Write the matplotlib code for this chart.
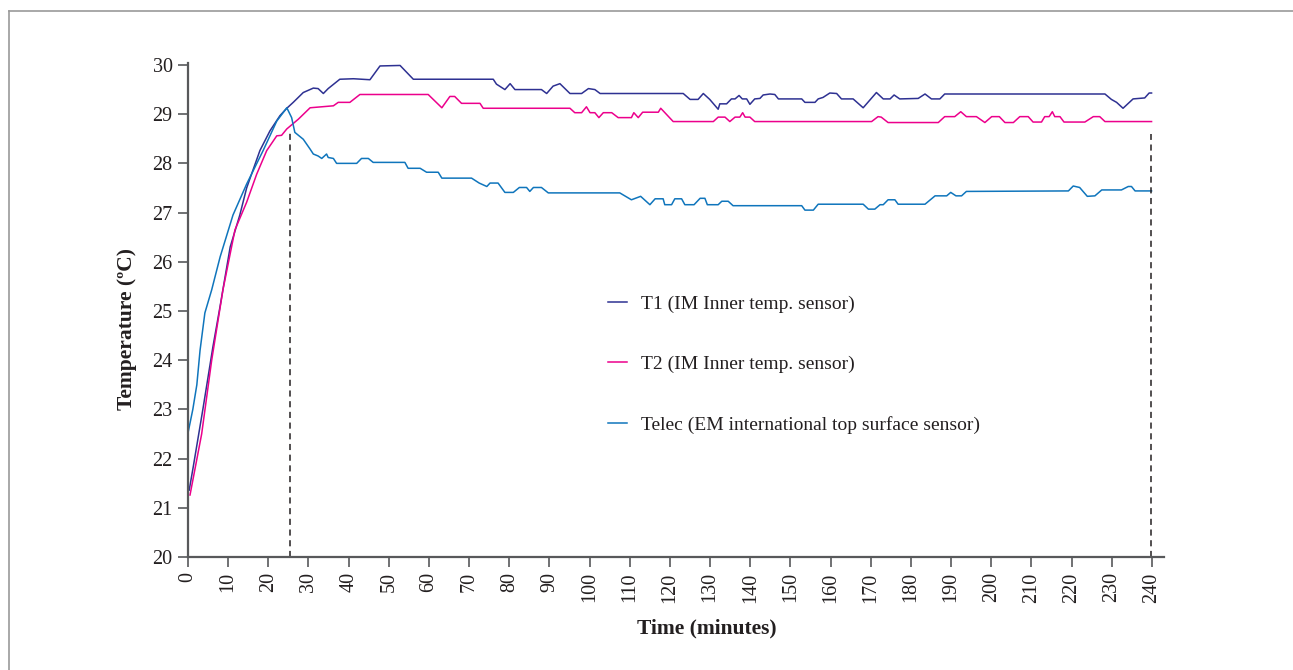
import matplotlib
matplotlib.use("Agg")
import matplotlib.pyplot as plt
from matplotlib.lines import Line2D

# Datos (tiempo en minutos, temperatura en grados C)
t1_time = [0.3, 1.3, 3.7, 6.2, 8.0, 10.5, 12.9, 14.6, 17.9, 20.4, 22.9, 24.6, 26.2, 28.7,
           31.2, 32.4, 33.7, 34.9, 37.8, 41.2, 45.3, 47.8, 52.8, 56.1, 76.0, 76.8, 78.9,
           80.2, 81.4, 88.0, 89.3, 90.9, 92.6, 95.1, 98.0, 99.7, 101.3, 102.6, 123.3,
           125.0, 127.0, 128.3, 129.9, 132.0, 132.4, 134.1, 135.3, 136.2, 137.2, 138.0,
           139.1, 139.9, 141.1, 142.4, 143.2, 144.9, 146.1, 147.0, 152.8, 153.6, 156.1,
           156.9, 158.1, 159.8, 161.5, 162.7, 165.6, 168.1, 171.4, 173.1, 174.8, 175.8,
           177.2, 181.8, 183.5, 185.1, 187.2, 188.4, 228.3, 229.9, 231.2, 232.8, 235.3,
           238.2, 239.3, 239.9]
t1_temp = [21.36, 21.83, 23.0, 24.27, 25.1, 26.3, 26.95, 27.5, 28.26, 28.66, 28.97, 29.12,
           29.24, 29.44, 29.53, 29.52, 29.42, 29.52, 29.71, 29.72, 29.7, 29.98, 29.99,
           29.71, 29.71, 29.61, 29.5, 29.62, 29.5, 29.5, 29.42, 29.57, 29.62, 29.42,
           29.42, 29.52, 29.5, 29.42, 29.42, 29.3, 29.3, 29.42, 29.3, 29.1, 29.21, 29.21,
           29.31, 29.31, 29.38, 29.31, 29.31, 29.2, 29.31, 29.32, 29.39, 29.41, 29.4,
           29.31, 29.31, 29.24, 29.24, 29.31, 29.34, 29.43, 29.42, 29.31, 29.31, 29.13,
           29.44, 29.31, 29.31, 29.39, 29.31, 29.32, 29.41, 29.31, 29.31, 29.41, 29.41,
           29.3, 29.24, 29.12, 29.31, 29.33, 29.43, 29.43]

t2_time = [0.5, 3.4, 5.9, 8.7, 11.7, 14.6, 17.1, 19.6, 22.1, 23.3, 24.6, 27.5, 30.4, 36.2,
           37.4, 40.3, 42.8, 59.8, 63.2, 65.2, 66.4, 68.1, 72.7, 73.5, 95.1, 96.3, 98.0,
           99.2, 100.1, 101.3, 102.3, 103.4, 105.5, 107.1, 110.4, 111.0, 112.1, 113.2,
           117.1, 117.7, 120.8, 130.8, 132.0, 133.7, 134.9, 136.2, 137.4, 138.1, 138.7,
           139.9, 141.1, 170.2, 171.8, 172.6, 174.3, 186.8, 188.4, 190.9, 192.4, 193.8,
           196.3, 198.4, 200.1, 202.0, 203.4, 205.5, 207.1, 209.2, 210.4, 212.5, 213.3,
           214.4, 215.2, 215.8, 217.1, 218.1, 223.3, 225.4, 227.0, 228.3, 239.9]
t2_temp = [21.26, 22.5, 24.0, 25.43, 26.65, 27.21, 27.78, 28.26, 28.56, 28.57, 28.7, 28.9,
           29.13, 29.17, 29.24, 29.24, 29.4, 29.4, 29.13, 29.36, 29.36, 29.22, 29.22,
           29.12, 29.12, 29.03, 29.03, 29.15, 29.03, 29.03, 28.93, 29.03, 29.03, 28.93,
           28.93, 29.03, 28.93, 29.04, 29.04, 29.12, 28.85, 28.85, 28.94, 28.94, 28.85,
           28.94, 28.94, 29.03, 28.94, 28.94, 28.85, 28.85, 28.95, 28.94, 28.83, 28.83,
           28.95, 28.95, 29.05, 28.95, 28.95, 28.83, 28.95, 28.95, 28.83, 28.83, 28.95,
           28.95, 28.84, 28.84, 28.95, 28.95, 29.05, 28.95, 28.95, 28.84, 28.84, 28.95,
           28.95, 28.85, 28.85]

telec_time = [0.0, 1.2, 2.2, 3.0, 4.2, 5.9, 8.0, 11.2, 14.6, 18.7, 22.1, 24.6, 25.8, 26.6,
              28.7, 30.4, 31.2, 32.4, 33.3, 34.5, 34.9, 36.2, 37.0, 42.0, 43.2, 44.9, 46.1,
              54.0, 54.8, 57.8, 59.4, 62.3, 63.2, 70.6, 72.5, 74.4, 75.2, 77.2, 78.9, 81.0,
              82.5, 84.3, 85.1, 86.0, 88.0, 89.7, 107.5, 110.4, 112.7, 115.0, 116.3, 118.3,
              118.7, 120.4, 121.2, 122.9, 123.7, 126.0, 127.5, 128.7, 129.3, 132.0, 132.9,
              134.5, 135.7, 152.8, 153.6, 155.7, 156.9, 168.1, 169.4, 171.0, 172.3, 173.1,
              174.3, 176.0, 176.8, 183.5, 186.0, 188.9, 189.9, 191.2, 192.6, 193.8, 219.2,
              220.4, 222.0, 223.9, 225.8, 227.5, 232.4, 234.1, 234.9, 235.8, 239.9]
telec_temp = [22.52, 23.0, 23.5, 24.2, 24.96, 25.43, 26.1, 26.95, 27.58, 28.26, 28.86, 29.13,
              28.93, 28.63, 28.49, 28.29, 28.19, 28.15, 28.1, 28.19, 28.12, 28.1, 28.0,
              28.0, 28.1, 28.1, 28.02, 28.02, 27.9, 27.9, 27.82, 27.82, 27.7, 27.7, 27.6,
              27.53, 27.6, 27.6, 27.41, 27.41, 27.51, 27.51, 27.43, 27.51, 27.51, 27.4,
              27.4, 27.26, 27.33, 27.16, 27.28, 27.28, 27.16, 27.16, 27.28, 27.28, 27.16,
              27.16, 27.29, 27.29, 27.16, 27.16, 27.23, 27.23, 27.14, 27.14, 27.05, 27.05,
              27.17, 27.17, 27.07, 27.07, 27.16, 27.16, 27.26, 27.26, 27.17, 27.17, 27.34,
              27.34, 27.41, 27.34, 27.34, 27.43, 27.44, 27.54, 27.51, 27.33, 27.34, 27.46,
              27.46, 27.53, 27.53, 27.44, 27.44]

# Lineas verticales discontinuas
marcas_t = [25.5, 239.8]
marcas_top = [28.63, 28.6]

etiquetas = ["T1 (IM Inner temp. sensor)", "T2 (IM Inner temp. sensor)",
             "Telec (EM international top surface sensor)"]
colores = ["#2e3192", "#ec008c", "#0f75bc"]

texto = "#231f20"
eje = "#58595b"
plt.rcParams['font.family'] = ['Liberation Serif', 'DejaVu Serif']

fig = plt.figure(figsize=(12.93, 6.70), dpi=100)
ax = fig.add_axes([188/1293, 1 - 557/670, 976/1293, 494/670])

ax.plot(t1_time, t1_temp, color=colores[0], lw=1.1, label=etiquetas[0])
ax.plot(t2_time, t2_temp, color=colores[1], lw=1.1, label=etiquetas[1])
ax.plot(telec_time, telec_temp, color=colores[2], lw=1.1, label=etiquetas[2])
ax.vlines(marcas_t, 20, marcas_top, colors="#231f20", lw=1.1, linestyles=(0, (4, 3)))

ax.set_xlim(0, 243)
ax.set_ylim(20, 30.04)
ax.set_xticks(range(0, 241, 10))
ax.set_yticks(range(20, 31))
ax.tick_params(axis='x', labelrotation=90)
ax.tick_params(labelsize=14.5, colors=texto, length=7, width=1.2, color=eje, pad=4)

for s in ["top", "right"]:
    ax.spines[s].set_visible(False)
for s in ["left", "bottom"]:
    ax.spines[s].set_color(eje)
    ax.spines[s].set_linewidth(1.6)

ax.set_xlabel("Time (minutes)", fontsize=15.5, fontweight="bold", color=texto)
ax.set_ylabel("Temperature (ºC)", fontsize=15.5, fontweight="bold", color=texto)
ax.xaxis.set_label_coords(0.532, -0.125)
ax.yaxis.set_label_coords(-0.052, 0.4615)

ax.legend(loc="center left", bbox_to_anchor=(0.43, 0.39), frameon=False, fontsize=14,
          borderpad=0, borderaxespad=0, handlelength=1.0, handletextpad=0.7,
          labelspacing=2.2, labelcolor=texto)

# Marco gris exterior
fig.add_artist(Line2D([9/1293, 9/1293], [0, 1 - 11/670], color="#9a9a9a", lw=1.2))
fig.add_artist(Line2D([9/1293, 1], [1 - 11/670, 1 - 11/670], color="#9a9a9a", lw=1.2))

plt.savefig("out.png", dpi=100)
